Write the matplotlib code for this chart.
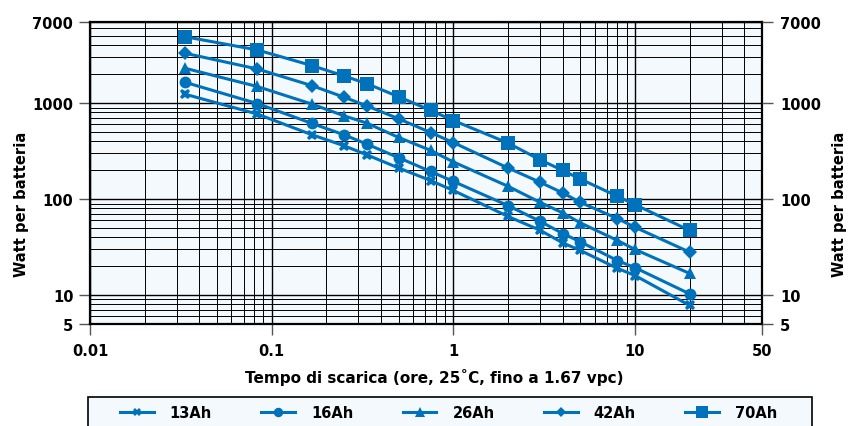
import matplotlib
matplotlib.use("Agg")
import matplotlib.pyplot as plt
from matplotlib.patches import Rectangle
from matplotlib.ticker import FixedLocator, NullFormatter

# --- Data -----------------------------------------------------------------
HOURS = [0.0333, 0.0833, 0.1667, 0.25, 0.3333, 0.5, 0.75, 1, 2, 3, 4, 5, 8, 10, 20]

W_13AH = [1240, 770, 468, 360, 290, 211, 156, 123, 66, 47.4, 35, 29.2, 19, 16, 7.8]
W_16AH = [1650, 990, 614, 468, 375, 270, 194, 153, 85.6, 58.8, 43.8, 35.9, 22.9, 19.3, 10.3]
W_26AH = [2310, 1490, 977, 738, 620, 439, 322, 244, 136, 92.6, 71.9, 56.6, 37.1, 29.9, 16.8]
W_42AH = [3310, 2270, 1520, 1154, 938, 687, 494, 388, 211, 150, 116, 92.6, 62.7, 50.9, 28.0]
W_70AH = [4920, 3580, 2460, 1920, 1600, 1165, 841, 659, 384, 257, 199, 162, 107, 87.7, 47.1]

SERIES = ["13Ah", "16Ah", "26Ah", "42Ah", "70Ah"]
VALUES = [W_13AH, W_16AH, W_26AH, W_42AH, W_70AH]

X_TICKS = [0.01, 0.1, 1, 10, 50]
X_TICK_LABELS = ["0.01", "0.1", "1", "10", "50"]
Y_TICKS = [5, 10, 100, 1000, 7000]
Y_TICK_LABELS = ["5", "10", "100", "1000", "7000"]

X_LABEL = "Tempo di scarica (ore, 25˚C, fino a 1.67 vpc)"
Y_LABEL = "Watt per batteria"

# --- Style ----------------------------------------------------------------
BLUE = "#0072BC"
PANEL = "#F4F9FE"
MARKERS = {"13Ah": ("X", 7.5), "16Ah": ("o", 8.5), "26Ah": ("^", 9),
           "42Ah": ("D", 7), "70Ah": ("s", 10)}

plt.rcParams["font.family"] = ["DejaVu Sans"]
plt.rcParams["font.weight"] = "bold"
plt.rcParams["axes.labelweight"] = "bold"


def minor_positions(lo_exp, hi_exp):
    out = []
    for e in range(lo_exp, hi_exp):
        out += [m * 10.0 ** e for m in range(2, 10)]
    return out


def main():
    fig = plt.figure(figsize=(8.48, 4.27), dpi=100)
    ax = fig.add_axes([90 / 848, 1 - 325 / 427, 672 / 848, 302 / 427])
    ax.set_facecolor(PANEL)

    lines = []
    for name, vals in zip(SERIES, VALUES):
        mk, ms = MARKERS[name]
        line, = ax.plot(HOURS, vals, color=BLUE, linewidth=2.2,
                        marker=mk, markersize=ms, markeredgewidth=0,
                        label=name, zorder=3)
        lines.append(line)

    ax.set_xscale("log")
    ax.set_yscale("log")
    ax.set_xlim(0.01, 50)
    ax.set_ylim(5, 7000)

    ax.xaxis.set_major_locator(FixedLocator(X_TICKS))
    ax.set_xticklabels(X_TICK_LABELS)
    ax.xaxis.set_minor_locator(FixedLocator([v for v in minor_positions(-2, 2) if v < 50]))
    ax.xaxis.set_minor_formatter(NullFormatter())

    ax.yaxis.set_major_locator(FixedLocator(Y_TICKS))
    ax.set_yticklabels(Y_TICK_LABELS)
    ax.yaxis.set_minor_locator(FixedLocator([v for v in minor_positions(0, 4) if 5 < v < 7000]))
    ax.yaxis.set_minor_formatter(NullFormatter())

    ax.grid(True, which="major", color="black", linewidth=1.0)
    ax.grid(True, which="minor", color="black", linewidth=0.7)

    ax.tick_params(which="major", direction="out", length=8, width=1,
                   color="#555555", labelsize=10.5, pad=4)
    ax.tick_params(axis="x", which="major", pad=6)
    ax.tick_params(which="minor", length=0)

    for sp in ax.spines.values():
        sp.set_linewidth(1.6)
        sp.set_color("black")

    # right axis copy
    ax2 = ax.twinx()
    ax2.set_yscale("log")
    ax2.set_ylim(ax.get_ylim())
    ax2.yaxis.set_major_locator(FixedLocator(Y_TICKS))
    ax2.set_yticklabels(Y_TICK_LABELS)
    ax2.yaxis.set_minor_locator(FixedLocator([]))
    ax2.tick_params(which="major", direction="out", length=8, width=1,
                    color="#555555", labelsize=10.5, pad=5)
    for sp in ax2.spines.values():
        sp.set_visible(False)

    ax.set_xlabel(X_LABEL, fontsize=11)
    ax.xaxis.set_label_coords(0.513, -0.175)
    ax.xaxis.label.set_va("center")

    ax.set_ylabel(Y_LABEL, fontsize=10.6)
    ax.yaxis.set_label_coords(-0.102, 0.40)
    ax.yaxis.label.set_va("center")

    ax2.set_ylabel(Y_LABEL, fontsize=10.6)
    ax2.yaxis.set_label_coords(1.116, 0.40)
    ax2.yaxis.label.set_va("center")

    # legend box (runs off the bottom edge, as in the source)
    frame = Rectangle((88 / 848, -0.2), 724 / 848, 1 - 398 / 427 + 0.2,
                      transform=fig.transFigure, facecolor=PANEL,
                      edgecolor="black", linewidth=1.2, clip_on=False, zorder=1)
    fig.add_artist(frame)

    fig.legend(
        handles=lines,
        labels=SERIES,
        loc="center left",
        bbox_to_anchor=(120 / 848, 1 - 414 / 427),
        ncol=len(SERIES),
        frameon=False,
        borderpad=0,
        borderaxespad=0,
        handlelength=2.3,
        handletextpad=1.1,
        columnspacing=3.4,
        markerscale=0.8,
        prop={"size": 10.5, "weight": "bold"},
    )

    fig.savefig("out.png", dpi=100)


if __name__ == "__main__":
    main()
